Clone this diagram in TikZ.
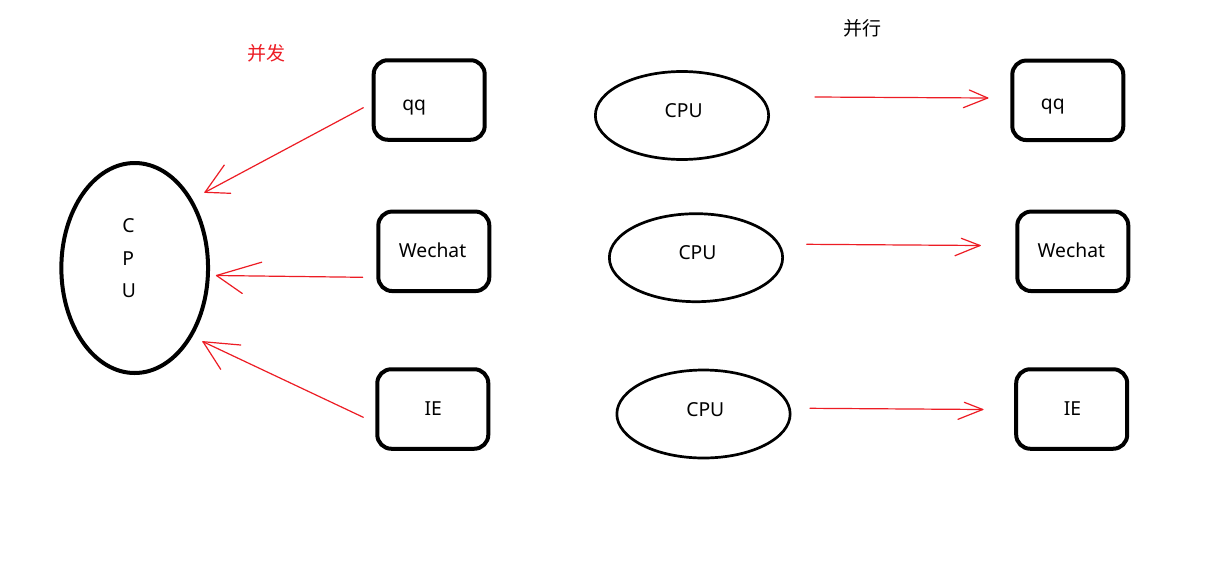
\documentclass[tikz,border=0pt]{standalone}
\usepackage{fontspec}
\setmainfont{Noto Sans}
\newfontfamily\cjk{Noto Sans CJK SC}
\usetikzlibrary{shapes.geometric}
\definecolor{paintred}{RGB}{237,28,36}
\tikzset{
  x=1pt, y=-1pt,
  txt/.style={inner sep=0pt, anchor=base, font=\fontsize{19.3}{22}\selectfont},
  cjktxt/.style={inner sep=0pt, font=\fontsize{19}{22}\selectfont\cjk},
  appbox/.style={draw=black, line width=4pt, rounded corners=14pt, minimum width=111pt, minimum height=79.5pt, inner sep=0pt},
  bigcpu/.style={draw=black, line width=4pt, ellipse, minimum width=146.7pt, minimum height=210pt, inner sep=0pt},
  midcpu/.style={draw=black, line width=2.7pt, ellipse, minimum width=173.3pt, minimum height=88pt, inner sep=0pt},
  redline/.style={draw=paintred, line width=1.2pt, line cap=round}
}
\begin{document}
\begin{tikzpicture}
\useasboundingbox[fill=white] (0,0) rectangle (1207,576);

% titles
\node[cjktxt, text=paintred] (tconc) at (266,53) {并发};
\node[cjktxt, text=black] (tpar) at (862,28) {并行};

% left: big CPU ellipse
\node[bigcpu] (bcpu) at (134.7,268) {};
\node[txt] (bc) at (128.5,232.7) {C};
\node[txt] (bp) at (128.3,265.3) {P};
\node[txt] (bu) at (129,297.7) {U};

% left app boxes
\node[appbox] (lqq) at (429.2,100) {};
\node[appbox] (lwc) at (433.8,251.3) {};
\node[appbox] (lie) at (432.8,409) {};
\node[txt] (lqqt) at (414.2,110) {qq};
\node[txt] (lwct) at (432.5,257.5) {Wechat};
\node[txt] (liet) at (433.3,415) {IE};

% middle CPU ellipses
\node[midcpu] (m1) at (682,115.5) {};
\node[midcpu] (m2) at (696,257.7) {};
\node[midcpu] (m3) at (703.5,414) {};
\node[txt] (m1t) at (683.7,117.7) {CPU};
\node[txt] (m2t) at (697.5,259.3) {CPU};
\node[txt] (m3t) at (705.3,416) {CPU};

% right app boxes
\node[appbox] (rqq) at (1067.8,100.3) {};
\node[appbox] (rwc) at (1072.8,251.3) {};
\node[appbox] (rie) at (1071.7,409) {};
\node[txt] (rqqt) at (1052.8,109.5) {qq};
\node[txt] (rwct) at (1071.3,257.3) {Wechat};
\node[txt] (riet) at (1072.5,415) {IE};

% left arrows (concurrency)
\coordinate (a1s) at (363.3,107.7);
\coordinate (a1t) at (205,192.3);
\coordinate (a2s) at (362.7,277.3);
\coordinate (a2t) at (216.5,275.5);
\coordinate (a3s) at (363.3,417.3);
\coordinate (a3t) at (203,341.7);
\draw[redline] (a1s) -- (a1t);
\draw[redline] (a1t) -- ++(19.3,-27.3);
\draw[redline] (a1t) -- ++(25.7,1);
\draw[redline] (a2s) -- (a2t);
\draw[redline] (a2t) -- ++(45.2,-13.3);
\draw[redline] (a2t) -- ++(25.8,18);
\draw[redline] (a3s) -- (a3t);
\draw[redline] (a3t) -- ++(37.7,3.3);
\draw[redline] (a3t) -- ++(17.7,27.6);

% right arrows (parallelism)
\coordinate (b1s) at (815,97);
\coordinate (b1t) at (987.7,98);
\coordinate (b2s) at (806.7,244.3);
\coordinate (b2t) at (980,245.5);
\coordinate (b3s) at (810,408.3);
\coordinate (b3t) at (982.7,409.5);
\draw[redline] (b1s) -- (b1t);
\draw[redline] (b1t) -- ++(-18.4,-8);
\draw[redline] (b1t) -- ++(-24.4,9.7);
\draw[redline] (b2s) -- (b2t);
\draw[redline] (b2t) -- ++(-18.7,-7.2);
\draw[redline] (b2t) -- ++(-25,10.2);
\draw[redline] (b3s) -- (b3t);
\draw[redline] (b3t) -- ++(-18.4,-7.2);
\draw[redline] (b3t) -- ++(-24.7,9.8);
\end{tikzpicture}
\end{document}
